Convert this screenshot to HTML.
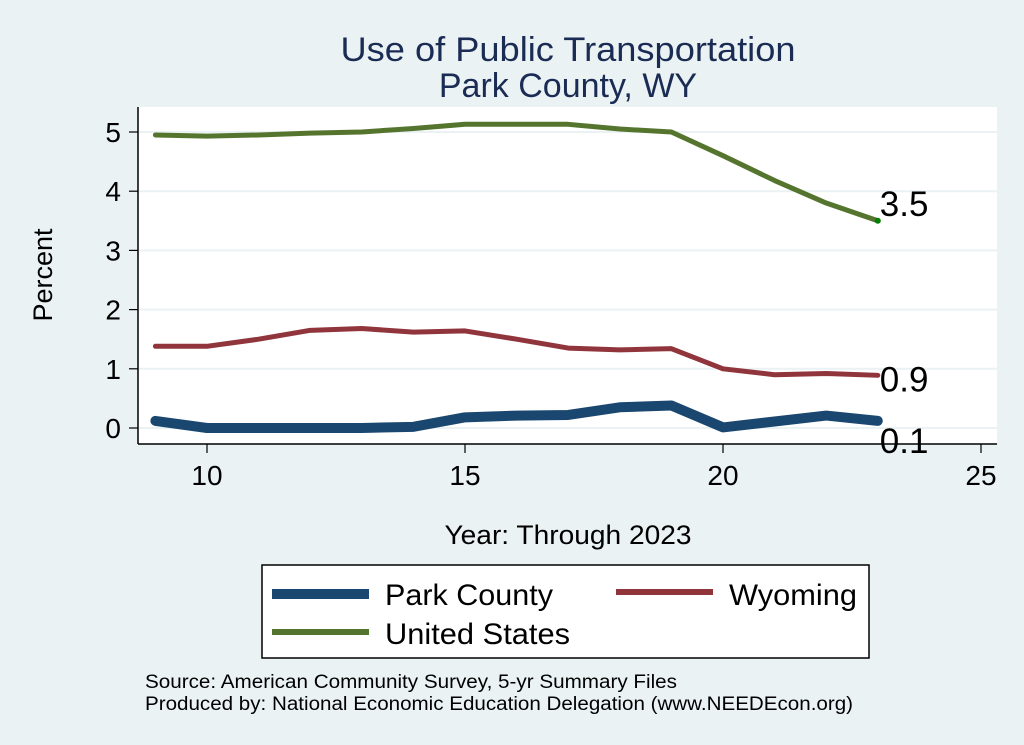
<!DOCTYPE html>
<html><head><meta charset="utf-8"><style>
body{margin:0;background:#eaf2f3;}
svg{display:block;font-family:"Liberation Sans",Arial,sans-serif;}
</style></head><body>
<svg id="chart" width="1024" height="745" viewBox="0 0 1024 745">
<rect x="0" y="0" width="1024" height="745" fill="#eaf2f3"/>
<text x="568" y="61" font-size="34" fill="#1a2b54" text-anchor="middle" textLength="455" lengthAdjust="spacingAndGlyphs">Use of Public Transportation</text>
<text x="568" y="97" font-size="34" fill="#1a2b54" text-anchor="middle">Park County, WY</text>
<rect x="138" y="107" width="859" height="337" fill="#ffffff"/>
<g id="grid"></g><g id="axes"></g><g id="series"></g>
<text x="52" y="275" font-size="27" fill="#000" text-anchor="middle" transform="rotate(-90 52 275)">Percent</text>
<text x="568" y="544" font-size="27" fill="#000" text-anchor="middle" textLength="247" lengthAdjust="spacingAndGlyphs">Year: Through 2023</text>
<g>
<rect x="262" y="565" width="607" height="93" fill="#fff" stroke="#000" stroke-width="1.5"/>
<line x1="272" y1="594" x2="369" y2="594" stroke="#1a476f" stroke-width="10"/>
<text x="385" y="605" font-size="30" textLength="168" lengthAdjust="spacingAndGlyphs">Park County</text>
<line x1="616" y1="592" x2="713" y2="592" stroke="#90353b" stroke-width="6"/>
<text x="729" y="605" font-size="30" textLength="128" lengthAdjust="spacingAndGlyphs">Wyoming</text>
<line x1="272" y1="632" x2="369" y2="632" stroke="#55752f" stroke-width="6"/>
<text x="385" y="644" font-size="30" textLength="185" lengthAdjust="spacingAndGlyphs">United States</text>
</g>
<text x="145" y="688" font-size="19" textLength="532" lengthAdjust="spacingAndGlyphs">Source: American Community Survey, 5-yr Summary Files</text>
<text x="145" y="710" font-size="19" textLength="708" lengthAdjust="spacingAndGlyphs">Produced by: National Economic Education Delegation (www.NEEDEcon.org)</text>
</svg>
<script>
const years=[9,10,11,12,13,14,15,16,17,18,19,20,21,22,23];
const parkCounty=[0.12,0.0,0.0,0.0,0.0,0.02,0.18,0.21,0.22,0.35,0.38,0.01,0.11,0.21,0.12];
const wyoming=[1.38,1.38,1.5,1.65,1.68,1.62,1.64,1.5,1.35,1.32,1.34,1.0,0.9,0.92,0.89];
const unitedStates=[4.95,4.93,4.95,4.98,5.0,5.06,5.13,5.13,5.13,5.05,5.0,4.6,4.18,3.8,3.5];
const yTicks=[0,1,2,3,4,5];
const xTicks=[10,15,20,25];
const endLabels=["0.1","0.9","3.5"];
const NS="http://www.w3.org/2000/svg";
const xs=v=>207+(v-10)*51.6;
const ys=v=>428-v*59.2;
function mk(tag,attrs,parent){const e=document.createElementNS(NS,tag);for(const k in attrs)e.setAttribute(k,attrs[k]);parent.appendChild(e);return e;}
const grid=document.getElementById('grid'),axes=document.getElementById('axes'),ser=document.getElementById('series');
yTicks.forEach(t=>{
 const g=mk('line',{x1:139,x2:997,y1:ys(t),y2:ys(t),stroke:'#eaf2f3','stroke-width':2},grid);
 
 
 const tk=mk('line',{x1:129,x2:138,y1:ys(t),y2:ys(t),stroke:'#000','stroke-width':1.2},axes);
 
 
 const tx=mk('text',{x:121,y:ys(t)+10,'font-size':28,'text-anchor':'end'},axes);tx.textContent=t;
 
 
});
const ya=mk('line',{x1:138,x2:138,y1:107,y2:444,stroke:'#000','stroke-width':1.5},axes);


const xa=mk('line',{x1:138,x2:997,y1:444,y2:444,stroke:'#000','stroke-width':1.5},axes);


xTicks.forEach(t=>{
 const tk=mk('line',{x1:xs(t),x2:xs(t),y1:444,y2:453,stroke:'#000','stroke-width':1.2},axes);
 
 
 const tx=mk('text',{x:xs(t),y:485,'font-size':28,'text-anchor':'middle'},axes);tx.textContent=t;
 
 
});
function line(vals,color,w,name){
 const p=mk('polyline',{points:vals.map((v,i)=>xs(years[i])+','+ys(v)).join(' '),fill:'none',stroke:color,'stroke-width':w,'stroke-linejoin':'round','stroke-linecap':'round'},ser);
 
 
}
line(unitedStates,'#55752f',5,'line-united-states');
line(wyoming,'#90353b',5,'line-wyoming');
line(parkCounty,'#1a476f',10,'line-park-county');
const last=years.length-1;
const d=mk('circle',{cx:xs(years[last]),cy:ys(unitedStates[last]),r:3,fill:'#008000'},ser);


[[parkCounty,32,'end-label-park-county'],[wyoming,16,'end-label-wyoming'],[unitedStates,-5,'end-label-united-states']].forEach((a,i)=>{
 const t=mk('text',{x:xs(years[last])+2,y:ys(a[0][last])+a[1],'font-size':35},ser);
 t.textContent=endLabels[i];
 
 
});
</script>
</body></html>
